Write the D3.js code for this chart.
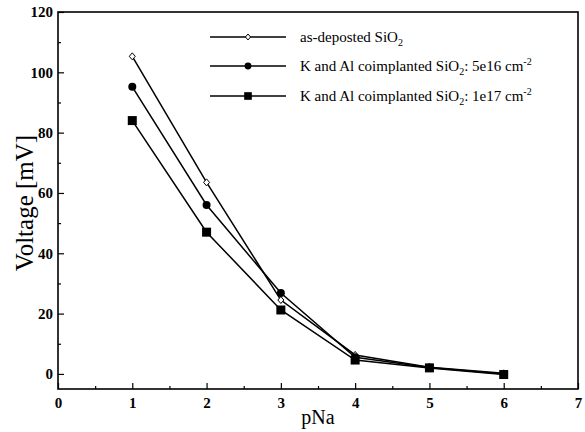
<!DOCTYPE html>
<html><head><meta charset="utf-8">
<script src="https://cdn.jsdelivr.net/npm/d3@7"></script>
<style>body{margin:0;background:#fff}svg{display:block}</style>
</head><body>
<svg id="c" width="585" height="432"></svg>
<script>
const pNa = [1, 2, 3, 4, 5, 6];
const asDeposited = [105.3, 63.5, 24.5, 6.3, 2.2, 0.2];
const coimpl5e16 = [95.2, 56, 26.8, 5.5, 2.1, 0];
const coimpl1e17 = [84, 47, 21.2, 4.6, 2, -0.2];
const xTicks = [0, 1, 2, 3, 4, 5, 6, 7];
const yTicks = [0, 20, 40, 60, 80, 100, 120];

const FONT = '"Liberation Serif"';
const svg = d3.select("#c");
const L = 58, R = 578, T = 12, B = 389;
const x = d3.scaleLinear().domain([0, 7]).range([L, R]);
const y = d3.scaleLinear().domain([-5, 120]).range([B, T]);

// frame
svg.append("rect").attr("x", L).attr("y", T).attr("width", R - L).attr("height", B - T)
  .attr("fill", "none").attr("stroke", "#000").attr("stroke-width", 1.6);

// axes with inward ticks
const gx = svg.append("g").attr("transform", `translate(0,${B})`)
  .call(d3.axisBottom(x).tickValues(xTicks).tickSize(-6).tickPadding(8).tickFormat(d3.format("d")));
const gxm = svg.append("g").attr("transform", `translate(0,${B})`)
  .call(d3.axisBottom(x).tickValues(d3.range(0.5, 7, 1)).tickSize(-3).tickFormat(""));
const gy = svg.append("g").attr("transform", `translate(${L},0)`)
  .call(d3.axisLeft(y).tickValues(yTicks).tickSize(-6).tickPadding(5).tickFormat(d3.format("d")));
const gym = svg.append("g").attr("transform", `translate(${L},0)`)
  .call(d3.axisLeft(y).tickValues(d3.range(10, 120, 20)).tickSize(-3).tickFormat(""));
[gx, gxm, gy, gym].forEach(g => {
  g.attr("font-family", null).attr("font-size", null);
  g.select(".domain").remove();
  g.selectAll("line").attr("stroke", "#000").attr("stroke-width", 1.2);
  g.selectAll("text").style("font-family", FONT).style("font-size", "15px").style("font-weight", "bold").attr("fill", "#000");
});

// series
const series = [
  {name: "as", vals: asDeposited, marker: "diamond"},
  {name: "5e16", vals: coimpl5e16, marker: "circle"},
  {name: "1e17", vals: coimpl1e17, marker: "square"}
];
const line = d3.line().x((d, i) => x(pNa[i])).y(d => y(d));
function drawMarker(g, type, cx, cy, s) {
  if (type === "circle") g.append("circle").attr("cx", cx).attr("cy", cy).attr("r", 4 * s).attr("fill", "#000");
  else if (type === "square") g.append("rect").attr("x", cx - 4.5 * s).attr("y", cy - 4.5 * s).attr("width", 9 * s).attr("height", 9 * s).attr("fill", "#000");
  else g.append("path").attr("d", `M${cx},${cy-3.5*s}L${cx+3*s},${cy}L${cx},${cy+3.5*s}L${cx-3*s},${cy}Z`)
    .attr("fill", "#fff").attr("stroke", "#000").attr("stroke-width", 1);
}
series.forEach(s => {
  svg.append("path").attr("d", line(s.vals)).attr("fill", "none").attr("stroke", "#000").attr("stroke-width", 1.5);
});
series.forEach(s => {
  const g = svg.append("g");
  s.vals.forEach((v, i) => drawMarker(g, s.marker, x(pNa[i]), y(v), 1));
});

// legend
const legY = [37, 66, 96];
const legText = [
  [["as-deposted SiO", ""], ["2", "sub"]],
  [["K and Al coimplanted SiO", ""], ["2", "sub"], [": 5e16 cm", "back"], ["-2", "sup"]],
  [["K and Al coimplanted SiO", ""], ["2", "sub"], [": 1e17 cm", "back"], ["-2", "sup"]]
];
series.forEach((s, i) => {
  const g = svg.append("g");
  g.append("line").attr("x1", 210).attr("x2", 286).attr("y1", legY[i]).attr("y2", legY[i]).attr("stroke", "#000").attr("stroke-width", 1.5);
  drawMarker(g, s.marker, 248, legY[i], 0.85);
  const t = g.append("text").attr("x", 300).attr("y", legY[i] + 5)
    .style("font-family", FONT).style("font-size", "15px").attr("fill", "#000");
  legText[i].forEach(([str, kind]) => {
    const ts = t.append("tspan").text(str);
    if (kind === "sub") ts.attr("dy", 4).style("font-size", "10px");
    else if (kind === "sup") ts.attr("dy", -6).style("font-size", "10px");
    else if (kind === "back") ts.attr("dy", -4);
  });
});

// axis titles
svg.append("text").attr("x", 318).attr("y", 424).attr("text-anchor", "middle")
  .style("font-family", FONT).style("font-size", "20px").attr("fill", "#000").text("pNa");
svg.append("text").attr("transform", `translate(33,203) rotate(-90)`).attr("text-anchor", "middle")
  .style("font-family", FONT).style("font-size", "25px").attr("fill", "#000").text("Voltage  [mV]");
</script>
</body></html>
